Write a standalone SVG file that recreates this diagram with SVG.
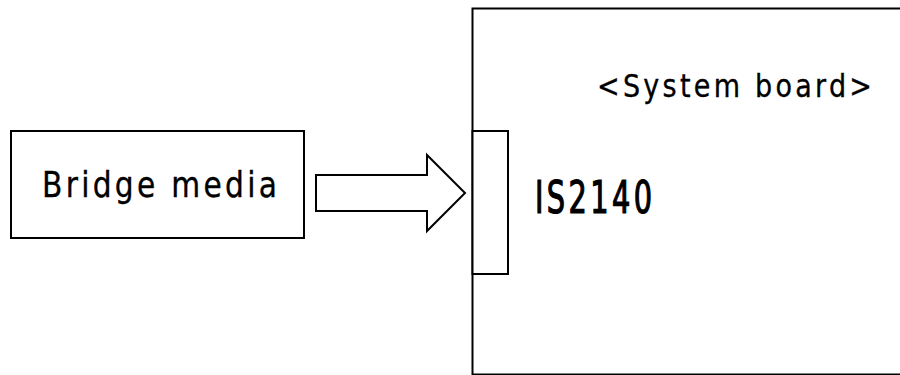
<svg xmlns="http://www.w3.org/2000/svg" width="900" height="375" viewBox="0 0 900 375">
<style>
.box{fill:#fff;stroke:#000;stroke-width:2}
.t{font-family:"DejaVu Sans Condensed","DejaVu Sans","Liberation Sans",sans-serif;font-stretch:condensed;fill:#000}
</style>
<rect width="900" height="375" fill="#fff"/>
<g id="system-board">
<rect class="box" x="472.5" y="8.5" width="440" height="366"/>
<text class="t" transform="translate(597,97) scale(1,1.06)" x="0" y="0" font-size="30" stroke="#000" stroke-width="0.3" textLength="275" lengthAdjust="spacing">&lt;System board&gt;</text>
</g>
<g id="is2140">
<rect class="box" x="472.5" y="131" width="35.5" height="143"/>
<text class="t" transform="translate(535,212.5) scale(1,1.36)" x="0" y="0" font-size="32" stroke="#000" stroke-width="0.9" textLength="117" lengthAdjust="spacing">IS2140</text>
</g>
<g id="bridge-media">
<rect class="box" x="11" y="131" width="293" height="107"/>
<text class="t" transform="translate(42,197) scale(1,1.08)" x="0" y="0" font-size="33" stroke="#000" stroke-width="0.3" textLength="235" lengthAdjust="spacing">Bridge media</text>
</g>
<g id="connectors">
<polygon class="box" points="316,175 427,175 427,155 465,193 427,231 427,211 316,211"/>
</g>
</svg>
